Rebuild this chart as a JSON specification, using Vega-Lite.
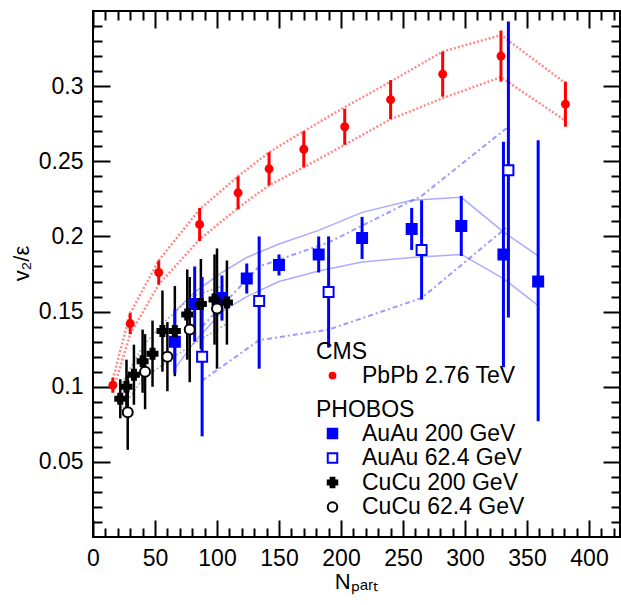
{
  "$schema": "https://vega.github.io/schema/vega-lite/v6.json",
  "width": 527,
  "height": 526,
  "autosize": {"type": "none"},
  "padding": {"left": 93, "top": 11, "right": 1, "bottom": 68},
  "background": "white",
  "config": {
    "view": {"stroke": "#000", "strokeWidth": 2},
    "font": "Liberation Sans",
    "axis": {"domain": false, "grid": false, "tickColor": "#000", "tickWidth": 2, "labelFont": "Liberation Sans", "labelFontSize": 23, "labelColor": "#000", "titleFont": "Liberation Sans", "titleFontSize": 22, "titleFontWeight": "normal", "titleColor": "#000", "labelFlush": false, "labelOverlap": false},
    "legend": {"titleFont": "Liberation Sans", "labelFont": "Liberation Sans", "titleFontSize": 23, "labelFontSize": 23, "titleFontWeight": "normal", "titleColor": "#000", "labelColor": "#000", "padding": 0, "labelLimit": 400, "titleLimit": 400}
  },
  "datasets": {
    "cms": [
      {"exp": "PbPb 2.76 TeV", "npart": 16, "v": 0.101, "lo": 0.096, "hi": 0.106},
      {"exp": "PbPb 2.76 TeV", "npart": 30, "v": 0.142, "lo": 0.135, "hi": 0.149},
      {"exp": "PbPb 2.76 TeV", "npart": 53, "v": 0.176, "lo": 0.168, "hi": 0.184},
      {"exp": "PbPb 2.76 TeV", "npart": 86, "v": 0.208, "lo": 0.197, "hi": 0.219},
      {"exp": "PbPb 2.76 TeV", "npart": 117, "v": 0.229, "lo": 0.218, "hi": 0.240},
      {"exp": "PbPb 2.76 TeV", "npart": 142, "v": 0.245, "lo": 0.234, "hi": 0.256},
      {"exp": "PbPb 2.76 TeV", "npart": 170, "v": 0.258, "lo": 0.246, "hi": 0.270},
      {"exp": "PbPb 2.76 TeV", "npart": 203, "v": 0.273, "lo": 0.261, "hi": 0.285},
      {"exp": "PbPb 2.76 TeV", "npart": 240, "v": 0.291, "lo": 0.278, "hi": 0.304},
      {"exp": "PbPb 2.76 TeV", "npart": 282, "v": 0.308, "lo": 0.293, "hi": 0.323},
      {"exp": "PbPb 2.76 TeV", "npart": 329, "v": 0.320, "lo": 0.303, "hi": 0.337},
      {"exp": "PbPb 2.76 TeV", "npart": 381, "v": 0.288, "lo": 0.273, "hi": 0.303}
    ],
    "phobos": [
      {"series": "AuAu 200 GeV", "npart": 66, "v": 0.130, "lo": 0.109, "hi": 0.151},
      {"series": "AuAu 200 GeV", "npart": 82, "v": 0.155, "lo": 0.130, "hi": 0.180},
      {"series": "AuAu 200 GeV", "npart": 104, "v": 0.159, "lo": 0.144, "hi": 0.174},
      {"series": "AuAu 200 GeV", "npart": 124, "v": 0.172, "lo": 0.162, "hi": 0.182},
      {"series": "AuAu 200 GeV", "npart": 150, "v": 0.181, "lo": 0.174, "hi": 0.188},
      {"series": "AuAu 200 GeV", "npart": 182, "v": 0.188, "lo": 0.176, "hi": 0.200},
      {"series": "AuAu 200 GeV", "npart": 217, "v": 0.199, "lo": 0.185, "hi": 0.213},
      {"series": "AuAu 200 GeV", "npart": 257, "v": 0.205, "lo": 0.191, "hi": 0.219},
      {"series": "AuAu 200 GeV", "npart": 297, "v": 0.207, "lo": 0.187, "hi": 0.227},
      {"series": "AuAu 200 GeV", "npart": 331, "v": 0.188, "lo": 0.113, "hi": 0.263},
      {"series": "AuAu 200 GeV", "npart": 359, "v": 0.170, "lo": 0.077, "hi": 0.264},
      {"series": "AuAu 62.4 GeV", "npart": 88, "v": 0.120, "lo": 0.067, "hi": 0.173},
      {"series": "AuAu 62.4 GeV", "npart": 134, "v": 0.157, "lo": 0.112, "hi": 0.200},
      {"series": "AuAu 62.4 GeV", "npart": 190, "v": 0.163, "lo": 0.126, "hi": 0.200},
      {"series": "AuAu 62.4 GeV", "npart": 265, "v": 0.191, "lo": 0.158, "hi": 0.224},
      {"series": "AuAu 62.4 GeV", "npart": 335, "v": 0.244, "lo": 0.146, "hi": 0.343},
      {"series": "CuCu 200 GeV", "npart": 22, "v": 0.092, "lo": 0.079, "hi": 0.105},
      {"series": "CuCu 200 GeV", "npart": 27, "v": 0.100, "lo": 0.082, "hi": 0.118},
      {"series": "CuCu 200 GeV", "npart": 33, "v": 0.108, "lo": 0.088, "hi": 0.128},
      {"series": "CuCu 200 GeV", "npart": 40, "v": 0.117, "lo": 0.096, "hi": 0.138},
      {"series": "CuCu 200 GeV", "npart": 48, "v": 0.122, "lo": 0.100, "hi": 0.144},
      {"series": "CuCu 200 GeV", "npart": 56, "v": 0.137, "lo": 0.110, "hi": 0.164},
      {"series": "CuCu 200 GeV", "npart": 66, "v": 0.137, "lo": 0.107, "hi": 0.167},
      {"series": "CuCu 200 GeV", "npart": 76, "v": 0.148, "lo": 0.118, "hi": 0.178},
      {"series": "CuCu 200 GeV", "npart": 87, "v": 0.155, "lo": 0.125, "hi": 0.185},
      {"series": "CuCu 200 GeV", "npart": 98, "v": 0.158, "lo": 0.128, "hi": 0.188},
      {"series": "CuCu 200 GeV", "npart": 108, "v": 0.156, "lo": 0.128, "hi": 0.184},
      {"series": "CuCu 62.4 GeV", "npart": 28, "v": 0.083, "lo": 0.058, "hi": 0.108},
      {"series": "CuCu 62.4 GeV", "npart": 42, "v": 0.110, "lo": 0.085, "hi": 0.135},
      {"series": "CuCu 62.4 GeV", "npart": 60, "v": 0.120, "lo": 0.097, "hi": 0.143},
      {"series": "CuCu 62.4 GeV", "npart": 78, "v": 0.138, "lo": 0.103, "hi": 0.173},
      {"series": "CuCu 62.4 GeV", "npart": 100, "v": 0.152, "lo": 0.112, "hi": 0.192}
    ],
    "bands": [
      {"set": "cms", "bound": "upper", "npart": 16, "v": 0.105},
      {"set": "cms", "bound": "upper", "npart": 30, "v": 0.149},
      {"set": "cms", "bound": "upper", "npart": 53, "v": 0.184},
      {"set": "cms", "bound": "upper", "npart": 86, "v": 0.218},
      {"set": "cms", "bound": "upper", "npart": 117, "v": 0.240},
      {"set": "cms", "bound": "upper", "npart": 142, "v": 0.256},
      {"set": "cms", "bound": "upper", "npart": 170, "v": 0.270},
      {"set": "cms", "bound": "upper", "npart": 203, "v": 0.286},
      {"set": "cms", "bound": "upper", "npart": 240, "v": 0.303},
      {"set": "cms", "bound": "upper", "npart": 282, "v": 0.323},
      {"set": "cms", "bound": "upper", "npart": 329, "v": 0.334},
      {"set": "cms", "bound": "upper", "npart": 381, "v": 0.302},
      {"set": "cms", "bound": "lower", "npart": 16, "v": 0.097},
      {"set": "cms", "bound": "lower", "npart": 30, "v": 0.135},
      {"set": "cms", "bound": "lower", "npart": 53, "v": 0.168},
      {"set": "cms", "bound": "lower", "npart": 86, "v": 0.198},
      {"set": "cms", "bound": "lower", "npart": 117, "v": 0.219},
      {"set": "cms", "bound": "lower", "npart": 142, "v": 0.234},
      {"set": "cms", "bound": "lower", "npart": 170, "v": 0.246},
      {"set": "cms", "bound": "lower", "npart": 203, "v": 0.261},
      {"set": "cms", "bound": "lower", "npart": 240, "v": 0.278},
      {"set": "cms", "bound": "lower", "npart": 282, "v": 0.292},
      {"set": "cms", "bound": "lower", "npart": 329, "v": 0.306},
      {"set": "cms", "bound": "lower", "npart": 381, "v": 0.277},
      {"set": "au200", "bound": "upper", "npart": 66, "v": 0.150},
      {"set": "au200", "bound": "upper", "npart": 82, "v": 0.163},
      {"set": "au200", "bound": "upper", "npart": 104, "v": 0.176},
      {"set": "au200", "bound": "upper", "npart": 124, "v": 0.186},
      {"set": "au200", "bound": "upper", "npart": 150, "v": 0.195},
      {"set": "au200", "bound": "upper", "npart": 182, "v": 0.204},
      {"set": "au200", "bound": "upper", "npart": 217, "v": 0.216},
      {"set": "au200", "bound": "upper", "npart": 257, "v": 0.224},
      {"set": "au200", "bound": "upper", "npart": 297, "v": 0.226},
      {"set": "au200", "bound": "upper", "npart": 331, "v": 0.203},
      {"set": "au200", "bound": "upper", "npart": 359, "v": 0.187},
      {"set": "au200", "bound": "lower", "npart": 66, "v": 0.112},
      {"set": "au200", "bound": "lower", "npart": 82, "v": 0.130},
      {"set": "au200", "bound": "lower", "npart": 104, "v": 0.150},
      {"set": "au200", "bound": "lower", "npart": 124, "v": 0.160},
      {"set": "au200", "bound": "lower", "npart": 150, "v": 0.170},
      {"set": "au200", "bound": "lower", "npart": 182, "v": 0.177},
      {"set": "au200", "bound": "lower", "npart": 217, "v": 0.183},
      {"set": "au200", "bound": "lower", "npart": 257, "v": 0.186},
      {"set": "au200", "bound": "lower", "npart": 297, "v": 0.188},
      {"set": "au200", "bound": "lower", "npart": 331, "v": 0.172},
      {"set": "au200", "bound": "lower", "npart": 359, "v": 0.154},
      {"set": "au62", "bound": "upper", "npart": 88, "v": 0.140},
      {"set": "au62", "bound": "upper", "npart": 134, "v": 0.180},
      {"set": "au62", "bound": "upper", "npart": 190, "v": 0.196},
      {"set": "au62", "bound": "upper", "npart": 265, "v": 0.227},
      {"set": "au62", "bound": "upper", "npart": 335, "v": 0.273},
      {"set": "au62", "bound": "lower", "npart": 88, "v": 0.104},
      {"set": "au62", "bound": "lower", "npart": 134, "v": 0.131},
      {"set": "au62", "bound": "lower", "npart": 190, "v": 0.138},
      {"set": "au62", "bound": "lower", "npart": 265, "v": 0.159},
      {"set": "au62", "bound": "lower", "npart": 335, "v": 0.207},
      {"set": "cu", "bound": "upper", "npart": 22, "v": 0.100},
      {"set": "cu", "bound": "upper", "npart": 40, "v": 0.127},
      {"set": "cu", "bound": "upper", "npart": 60, "v": 0.145},
      {"set": "cu", "bound": "upper", "npart": 80, "v": 0.160},
      {"set": "cu", "bound": "upper", "npart": 108, "v": 0.168},
      {"set": "cu", "bound": "lower", "npart": 22, "v": 0.084},
      {"set": "cu", "bound": "lower", "npart": 40, "v": 0.105},
      {"set": "cu", "bound": "lower", "npart": 60, "v": 0.117},
      {"set": "cu", "bound": "lower", "npart": 80, "v": 0.128},
      {"set": "cu", "bound": "lower", "npart": 108, "v": 0.142}
    ]
  },
  "layer": [
    {
      "data": {"name": "bands"},
      "transform": [{"filter": "datum.set === 'cms'"}],
      "mark": {"type": "line", "color": "#ff2a2a", "strokeWidth": 2.5, "strokeDash": [2, 2], "opacity": 0.55},
      "encoding": {
        "x": {"field": "npart", "type": "quantitative", "scale": {"domain": [0, 425], "nice": false, "zero": false},
          "axis": {"orient": "bottom", "values": [0, 50, 100, 150, 200, 250, 300, 350, 400], "format": "d", "tickSize": -17, "labelPadding": 27, "title": "Nₚₐᵣₜ", "titleX": 263, "titleY": 34, "titleAlign": "center", "titleBaseline": "top"}},
        "y": {"field": "v", "type": "quantitative", "scale": {"domain": [0, 0.35], "nice": false, "zero": false},
          "axis": {"orient": "left", "values": [0.05, 0.1, 0.15, 0.2, 0.25, 0.3], "format": ".2~f", "tickSize": -17, "labelPadding": 27, "title": "v₂/ε", "titleX": -72, "titleY": 252, "titleAngle": -90, "titleAlign": "center", "titleBaseline": "middle"}},
        "detail": {"field": "bound"}
      }
    },
    {
      "data": {"name": "bands"},
      "transform": [{"filter": "datum.set === 'au200'"}],
      "mark": {"type": "line", "color": "#5a5aff", "strokeWidth": 1.5, "opacity": 0.5},
      "encoding": {
        "x": {"field": "npart", "type": "quantitative", "scale": {"domain": [0, 425], "nice": false, "zero": false},
          "axis": {"orient": "top", "values": [0, 50, 100, 150, 200, 250, 300, 350, 400], "tickSize": -17, "labels": false, "title": null}},
        "y": {"field": "v", "type": "quantitative", "scale": {"domain": [0, 0.35], "nice": false, "zero": false},
          "axis": {"orient": "right", "values": [0.05, 0.1, 0.15, 0.2, 0.25, 0.3], "tickSize": -17, "labels": false, "title": null}},
        "detail": {"field": "bound"}
      }
    },
    {
      "data": {"name": "bands"},
      "transform": [{"filter": "datum.set === 'au62'"}],
      "mark": {"type": "line", "color": "#3a3aff", "strokeWidth": 2, "strokeDash": [5, 3, 2, 3], "opacity": 0.5},
      "encoding": {
        "x": {"field": "npart", "type": "quantitative", "scale": {"domain": [0, 425], "nice": false, "zero": false},
          "axis": {"orient": "bottom", "values": [10, 20, 30, 40, 60, 70, 80, 90, 110, 120, 130, 140, 160, 170, 180, 190, 210, 220, 230, 240, 260, 270, 280, 290, 310, 320, 330, 340, 360, 370, 380, 390, 410, 420], "tickSize": -9, "labels": false, "title": null}},
        "y": {"field": "v", "type": "quantitative", "scale": {"domain": [0, 0.35], "nice": false, "zero": false},
          "axis": {"orient": "left", "values": [0.01, 0.02, 0.03, 0.04, 0.06, 0.07, 0.08, 0.09, 0.11, 0.12, 0.13, 0.14, 0.16, 0.17, 0.18, 0.19, 0.21, 0.22, 0.23, 0.24, 0.26, 0.27, 0.28, 0.29, 0.31, 0.32, 0.33, 0.34], "tickSize": -9, "labels": false, "title": null}},
        "detail": {"field": "bound"}
      }
    },
    {
      "data": {"name": "bands"},
      "transform": [{"filter": "datum.set === 'cu'"}],
      "mark": {"type": "line", "color": "#777777", "strokeWidth": 1.5, "strokeDash": [2, 2], "opacity": 0.6},
      "encoding": {
        "x": {"field": "npart", "type": "quantitative", "scale": {"domain": [0, 425], "nice": false, "zero": false},
          "axis": {"orient": "top", "values": [10, 20, 30, 40, 60, 70, 80, 90, 110, 120, 130, 140, 160, 170, 180, 190, 210, 220, 230, 240, 260, 270, 280, 290, 310, 320, 330, 340, 360, 370, 380, 390, 410, 420], "tickSize": -9, "labels": false, "title": null}},
        "y": {"field": "v", "type": "quantitative", "scale": {"domain": [0, 0.35], "nice": false, "zero": false},
          "axis": {"orient": "right", "values": [0.01, 0.02, 0.03, 0.04, 0.06, 0.07, 0.08, 0.09, 0.11, 0.12, 0.13, 0.14, 0.16, 0.17, 0.18, 0.19, 0.21, 0.22, 0.23, 0.24, 0.26, 0.27, 0.28, 0.29, 0.31, 0.32, 0.33, 0.34], "tickSize": -9, "labels": false, "title": null}},
        "detail": {"field": "bound"}
      }
    },
    {
      "data": {"name": "cms"},
      "mark": {"type": "rule", "color": "#ff0000", "strokeWidth": 3},
      "encoding": {
        "x": {"field": "npart", "type": "quantitative", "axis": null},
        "y": {"field": "lo", "type": "quantitative", "axis": null},
        "y2": {"field": "hi"}
      }
    },
    {
      "data": {"name": "phobos"},
      "transform": [{"filter": "indexof(datum.series, 'CuCu') === 0"}],
      "mark": {"type": "rule", "color": "#000000", "strokeWidth": 2.5},
      "encoding": {
        "x": {"field": "npart", "type": "quantitative", "axis": null},
        "y": {"field": "lo", "type": "quantitative", "axis": null},
        "y2": {"field": "hi"}
      }
    },
    {
      "data": {"name": "phobos"},
      "transform": [{"filter": "indexof(datum.series, 'AuAu') === 0"}],
      "mark": {"type": "rule", "color": "#0000ff", "strokeWidth": 3},
      "encoding": {
        "x": {"field": "npart", "type": "quantitative", "axis": null},
        "y": {"field": "lo", "type": "quantitative", "axis": null},
        "y2": {"field": "hi"}
      }
    },
    {
      "data": {"name": "cms"},
      "mark": {"type": "point", "filled": true, "size": 80, "opacity": 1},
      "encoding": {
        "x": {"field": "npart", "type": "quantitative", "axis": null},
        "y": {"field": "v", "type": "quantitative", "axis": null},
        "color": {"field": "exp", "type": "nominal", "scale": {"domain": ["PbPb 2.76 TeV"], "range": ["#ff0000"]},
          "legend": {"title": "CMS", "orient": "none", "legendX": 223, "legendY": 330, "symbolType": "circle", "symbolSize": 60, "symbolOffset": 5, "labelOffset": 18, "titlePadding": 0, "rowPadding": 0.5}}
      }
    },
    {
      "data": {"name": "phobos"},
      "mark": {"type": "point", "size": 100, "strokeWidth": 2, "opacity": 1},
      "encoding": {
        "x": {"field": "npart", "type": "quantitative", "axis": null},
        "y": {"field": "v", "type": "quantitative", "axis": null},
        "shape": {"field": "series", "type": "nominal", "scale": {"domain": ["AuAu 200 GeV", "AuAu 62.4 GeV", "CuCu 200 GeV", "CuCu 62.4 GeV"], "range": ["square", "square", "cross", "circle"]},
          "legend": {"title": "PHOBOS", "orient": "none", "legendX": 223, "legendY": 388, "symbolSize": 90, "symbolStrokeWidth": 2, "symbolOffset": 5, "labelOffset": 18, "titlePadding": 0, "rowPadding": 0.5}},
        "fill": {"field": "series", "type": "nominal", "scale": {"domain": ["AuAu 200 GeV", "AuAu 62.4 GeV", "CuCu 200 GeV", "CuCu 62.4 GeV"], "range": ["#0000ff", "#ffffff", "#000000", "#ffffff"]}},
        "stroke": {"field": "series", "type": "nominal", "scale": {"domain": ["AuAu 200 GeV", "AuAu 62.4 GeV", "CuCu 200 GeV", "CuCu 62.4 GeV"], "range": ["#0000ff", "#0000ff", "#000000", "#000000"]}}
      }
    }
  ],
  "resolve": {"axis": {"x": "independent", "y": "independent"}}
}
